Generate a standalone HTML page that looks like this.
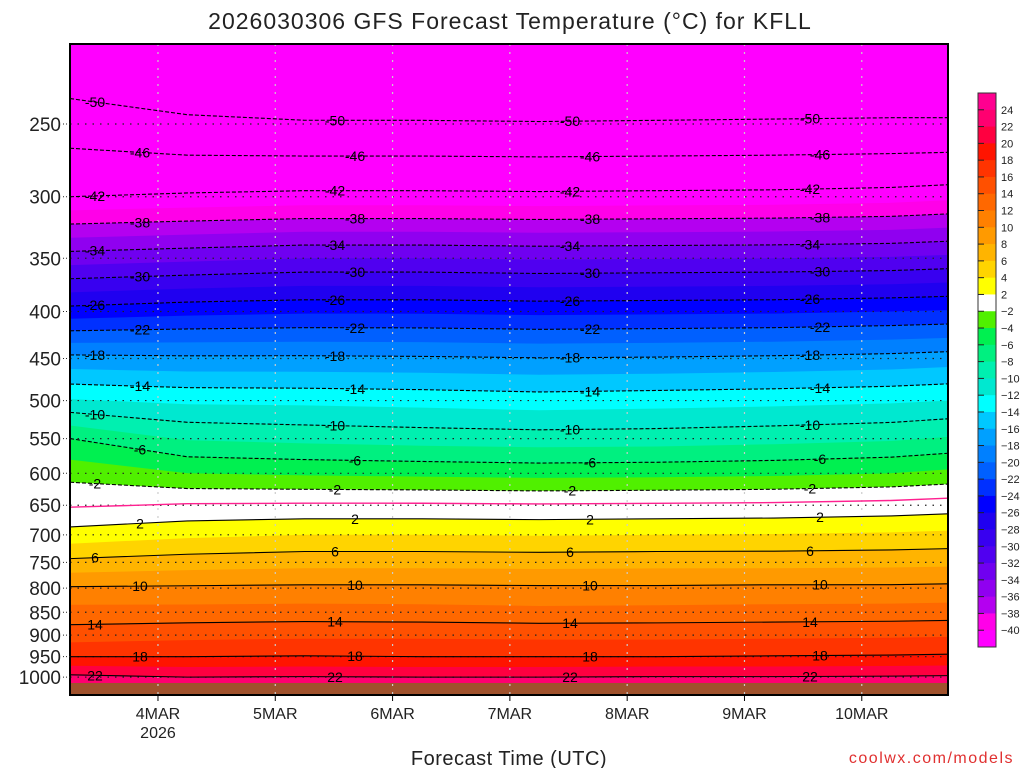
<!DOCTYPE html>
<html><head><meta charset="utf-8">
<style>
body{margin:0;background:#fff;width:1024px;height:768px;overflow:hidden;font-family:"Liberation Sans",sans-serif;}
svg text{font-family:"Liberation Sans",sans-serif;}
</style></head>
<body>
<svg id="chart" width="1024" height="768" xmlns="http://www.w3.org/2000/svg">
<text x="510" y="29" font-size="23" text-anchor="middle" fill="#222" letter-spacing="1">2026030306 GFS Forecast Temperature (°C) for KFLL</text>
<g id="plot"></g>
<g id="yaxis"></g>
<g id="xaxis"></g>
<g id="cbar"></g>
<text x="509" y="765" font-size="20" text-anchor="middle" fill="#222" letter-spacing="0.5">Forecast Time (UTC)</text>
<text x="1014" y="763" font-size="16" text-anchor="end" fill="#e03030" letter-spacing="1.5">coolwx.com/models</text>
</svg>
<script>
// ---- data ----
const pressureLevels = [1000,975,950,925,900,850,800,750,700,650,600,550,500,450,400,350,300,250,200];
const forecastDays = [0,1,2,3,4,5,6,7,7.5]; // days after 2026-03-03 06Z
const tempCol0 = [22.5,20.3,18,16.5,15,12.8,10.2,6.5,2.8,-0.2,-2.7,-6,-11.8,-17.4,-25.2,-33,-42,-48,-55];
const tempCol1 = [22,20,18,16.7,15.4,12.8,10.3,7,3.6,0.2,-4,-8.2,-12.4,-17.6,-24.6,-32.5,-41.6,-49.3,-56];
const tempCol2 = [22.1,20.1,18.1,16.8,15.6,12.9,10.4,7.3,4,0.3,-4.3,-8.6,-12.5,-17.6,-24.3,-32,-41.3,-49.7,-56.8];
const tempCol3 = [22,20,18,16.8,15.6,12.8,10.4,7.3,4,0.3,-4.5,-8.9,-12.7,-17.7,-24.3,-32,-41.3,-49.7,-57];
const tempCol4 = [22,20,18,16.7,15.5,12.6,10.3,7.2,3.9,0.2,-4.7,-9.1,-13,-17.9,-24.5,-32.2,-41.4,-49.8,-57];
const tempCol5 = [22.1,20.1,18,16.7,15.5,12.7,10.3,7.3,4,0.3,-4.6,-9,-12.8,-17.8,-24.4,-32.1,-41.3,-49.7,-57];
const tempCol6 = [22.1,20.1,18.1,16.8,15.6,12.8,10.4,7.3,4.1,0.4,-4.4,-8.7,-12.6,-17.6,-24.3,-32,-41.2,-49.6,-56.8];
const tempCol7 = [22.2,20.2,18.2,16.9,15.7,12.9,10.4,7.4,4.3,0.7,-4,-8.3,-12.3,-17.3,-24,-31.8,-40.9,-49.5,-56.6];
const tempCol8 = [22.3,20.3,18.3,17,15.8,13,10.5,7.5,4.5,1,-3.5,-7.8,-12,-17,-23.8,-31.5,-40.5,-49.5,-56.5];
const tempColumns = [tempCol0,tempCol1,tempCol2,tempCol3,tempCol4,tempCol5,tempCol6,tempCol7,tempCol8];
const fillLevels = [24,22,20,18,16,14,12,10,8,6,4,2,-2,-4,-6,-8,-10,-12,-14,-16,-18,-20,-22,-24,-26,-28,-30,-32,-34,-36,-38,-40];
const fillColors = ['#ff0090','#ff0070','#ff0040','#ff1400','#ff3400','#ff5000','#ff6800','#ff8000','#ff9a00','#ffb400','#ffd400','#ffff00','#ffffff','#50f000','#00f050','#00f080','#00f0b0','#00e8d0','#00ffff','#00c8ff','#00a0ff','#0080ff','#0060ff','#0030ff','#0000ff','#2000f0','#3800f0','#5000f0','#7000f0','#9000f0','#b400f0','#ff00e8','#ff00ff'];
const contourLevels = [22,18,14,10,6,2,-2,-6,-10,-14,-18,-22,-26,-30,-34,-38,-42,-46,-50];
const pressureTicks = [250,300,350,400,450,500,550,600,650,700,750,800,850,900,950,1000];
const dayTicks = [0.75,1.75,2.75,3.75,4.75,5.75,6.75];
const dayLabels = ['4MAR','5MAR','6MAR','7MAR','8MAR','9MAR','10MAR'];

// ---- axes ----
const NS='http://www.w3.org/2000/svg';
const X0=70,X1=948,Y0=44,Y1=695;
const xs=d=>X0+d*117.3;
const ys=p=>124+399*Math.log(p/250);
function mk(tag,attrs,parent){const e=document.createElementNS(NS,tag);for(const k in attrs)e.setAttribute(k,attrs[k]);parent.appendChild(e);return e;}
const plot=document.getElementById('plot');
const clip=mk('clipPath',{id:'pc'},plot);mk('rect',{x:X0,y:Y0,width:X1-X0,height:Y1-Y0},clip);
const g=mk('g',{'clip-path':'url(#pc)'},plot);

function contourY(col,L){
  const T=tempColumns[col];
  if(T[0]<L) return Y1+5;
  for(let i=0;i<T.length-1;i++){
    if((T[i]-L)*(T[i+1]-L)<=0 && T[i]!==T[i+1]){
      const f=(T[i]-L)/(T[i]-T[i+1]);
      const lp=Math.log(pressureLevels[i])+f*(Math.log(pressureLevels[i+1])-Math.log(pressureLevels[i]));
      return ys(Math.exp(lp));
    }
  }
  return Y0-5;
}
function linePts(L){return forecastDays.map((d,c)=>[xs(d),contourY(c,L)]);}

const base=mk('rect',{x:X0,y:Y0,width:X1-X0,height:Y1-Y0,fill:fillColors[0]},g);


fillLevels.forEach((L,i)=>{
  const pts=linePts(L);
  let d='M'+X0+','+(Y0-5)+' '+pts.map(p=>'L'+p[0].toFixed(1)+','+p[1].toFixed(1)).join(' ')+' L'+X1+','+(Y0-5)+'Z';
  const el=mk('path',{d:d,fill:fillColors[i+1]},g);
  
  
});
const gr=mk('rect',{x:X0,y:683,width:X1-X0,height:15,fill:'#a0522d'},g);



pressureTicks.forEach(p=>{mk('line',{x1:X0,x2:X1,y1:ys(p),y2:ys(p),stroke:'#222','stroke-width':1.2,'stroke-dasharray':'1.5 6'},g);});
dayTicks.forEach(d=>{mk('line',{x1:xs(d),x2:xs(d),y1:Y0,y2:Y1,stroke:'#ccc','stroke-width':1.2,'stroke-dasharray':'2 6'},g);});

const zp=linePts(0);
const zl=mk('polyline',{points:zp.map(p=>p.join(',')).join(' '),fill:'none',stroke:'#ff2090','stroke-width':1.4},g);



const labelXs=[[95,335,570,810],[140,355,590,820]];
contourLevels.forEach((L,k)=>{
  const pts=linePts(L);
  const cl=mk('polyline',{points:pts.map(p=>p.join(',')).join(' '),fill:'none',stroke:'#000','stroke-width':1.1,'stroke-dasharray':L<0?'4 2':'none'},g);
  
  
  labelXs[k%2].forEach(lx=>{
    const d=(lx-X0)/117.3;let i=0;while(i<forecastDays.length-2&&forecastDays[i+1]<d)i++;
    const f=(d-forecastDays[i])/(forecastDays[i+1]-forecastDays[i]);
    const y=pts[i][1]+f*(pts[i+1][1]-pts[i][1]);
    if(y<Y0+6||y>Y1-6)return;
    const t=mk('text',{x:lx,y:y+5,'font-size':14,'text-anchor':'middle',fill:'#000'},g);
    t.textContent=String(L);
    
    
  });
});
mk('rect',{x:X0,y:Y0,width:X1-X0,height:Y1-Y0,fill:'none',stroke:'#000','stroke-width':2},plot);

const ya=document.getElementById('yaxis');
pressureTicks.forEach(p=>{
  const t=mk('text',{x:61,y:ys(p)+7,'font-size':19,'text-anchor':'end',fill:'#222'},ya);
  t.textContent=String(p);
  
  
  mk('line',{x1:63,x2:70,y1:ys(p),y2:ys(p),stroke:'#222','stroke-width':1,'stroke-dasharray':'1 2'},ya);
});
const xa=document.getElementById('xaxis');
dayTicks.forEach((d,i)=>{
  mk('line',{x1:xs(d),x2:xs(d),y1:Y1,y2:Y1+6,stroke:'#000'},xa);
  const t=mk('text',{x:xs(d),y:719,'font-size':16,'text-anchor':'middle',fill:'#222'},xa);
  t.textContent=dayLabels[i];
  
  
});
const yr=mk('text',{x:xs(dayTicks[0]),y:738,'font-size':16,'text-anchor':'middle',fill:'#222'},xa);
yr.textContent='2026';



const cb=document.getElementById('cbar');
const CB0=93,CB1=647,segH=(CB1-CB0)/fillColors.length;
fillColors.forEach((c,i)=>{
  const r=mk('rect',{x:978,y:CB0+i*segH,width:18,height:segH+0.5,fill:c},cb);
  
  
});
mk('rect',{x:978,y:CB0,width:18,height:CB1-CB0,fill:'none',stroke:'#333','stroke-width':1},cb);
fillLevels.forEach((L,i)=>{
  const y=CB0+(i+1)*segH;
  mk('line',{x1:978,x2:984,y1:y,y2:y,stroke:'#222'},cb);
  const t=mk('text',{x:1001,y:y+4,'font-size':11,fill:'#222'},cb);
  t.textContent=L<0?'\u2212'+(-L):String(L);
  
  
});
</script>
</body></html>
